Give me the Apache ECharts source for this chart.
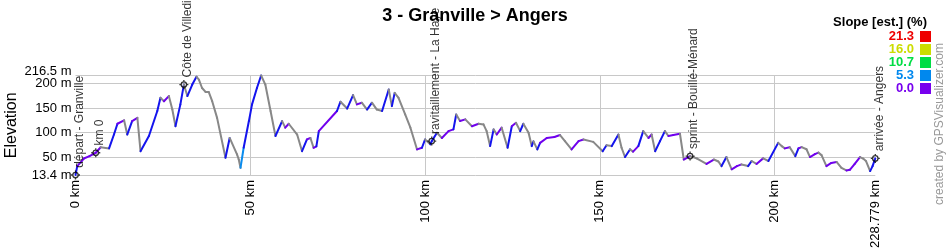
<!DOCTYPE html>
<html><head><meta charset="utf-8">
<script src="https://cdn.jsdelivr.net/npm/echarts@6/dist/echarts.min.js"></script>
<style>html,body{margin:0;padding:0;background:#fff}#c{width:950px;height:250px}</style>
</head><body><div id="c"></div>
<script>
// ---- data ----
const distanceKm = [0,0.5,2.4,4.0,5.8,7.2,9.6,11,12,13.9,14.8,16.2,17.7,18.6,21,23.4,24.3,25.3,26.7,27.7,28.6,30,31,32,33.4,34.6,35.3,36.2,37.2,38.1,39.1,40.5,42.9,44.1,46.2,46.7,47.2,48.1,49.6,50.5,51.9,53.1,54.3,55.8,57.2,59.1,60,61,63.4,64.8,66.2,67.2,68.1,68.9,69.6,74.8,75.8,77.7,79.4,80.5,81.9,83.4,84.8,86.2,87.7,89.6,90.5,91.3,92.4,94.3,95.8,97.7,99.1,100,101.5,101.9,103.4,104.8,106.7,108.1,108.9,110,111.5,113.4,115.3,116.7,117.6,118.6,119.6,120.5,121.9,123.6,124.8,126,127.2,128.1,129.6,130.5,131,132.1,132.9,134.8,137,138.6,140,141.9,143.9,145.3,148.1,150.8,151.9,153.4,155.3,156.2,157.2,158.6,159.5,161,162.4,163.9,164.8,165.8,167.2,168.6,169.6,171,172.9,174,175.8,177.8,180.5,182.6,183.9,184.8,186.2,187.7,189.2,190.5,192.4,193.4,194.8,196.7,198.2,201,202,202.9,204.3,205.9,206.8,207.7,209.1,210.1,211.5,212.5,213.4,214.8,216.2,217.7,219.1,220.5,221.5,222.9,224.4,225.3,226.1,227.3,228,228.779];
const elevationM = [13.4,31.6,47,52,58.8,70,67.7,96,118,125,96,123.5,130,62,93,144,171,164,174.5,147,113,157.5,198,174.5,198,214,208,191,183,183,164,130,48.6,89,55.5,45,28,69,123.5,157.5,191,216.5,198,144,93,123.5,110,118,96,62,86,89,69,72,103,144,163,149,176.5,157.5,161,147,161,147,144,188,154,181,171,137,110,65.6,69,86,76,82.6,99.6,89,103,106.5,137,123.5,127,113,118,116.7,103,72.4,106.5,96,110,69,113,120,103,118,99.6,72.4,82,65.6,79,89,91,95,82.6,65.6,82.6,86,81,62,74,72.4,96,69,50,65.6,61,72.4,103,89,96,62,82.6,103,93,95,97.6,45,52,47,36,45,41,31.6,50,25,31.6,35,31.6,42,36,47.3,42,79,72.4,67.7,70,52,67.7,70.4,66,50,56,59,54,31.6,38,40,28,22.7,24,36,50,47,42,21.4,31.6,47.3];
const yTickValues = [13.4, 50, 100, 150, 200, 216.5];
const xTickValues = [0, 50, 100, 150, 200, 228.779];
const waypointNames = ['départ - Granville','km 0','Côte de Villedieu','ravitaillement - La Haye','sprint - Bouillé-Ménard','arrivée - Angers'];
const waypointKm = [0, 5.8, 31, 101.9, 175.8, 228.779];
const waypointM = [13.4, 58.8, 198, 82.6, 52, 47.3];
const legendValues = ['21.3','16.0','10.7','5.3','0.0'];
const legendColors = ['#ee0000','#ccdd00','#00dd44','#0088ee','#7700ee'];
const titleText = '3 - Granville > Angers';

// ---- build ----
const FONT = "'Liberation Sans', Arial, sans-serif";
function slopeColor(s) {
  if (s <= 0) return '#888888';
  if (s < 1.0) return '#7000ee';
  if (s < 4.5) return '#1414ee';
  if (s < 6.5) return '#0a8cee';
  if (s < 9) return '#10cccc';
  return '#00dd55';
}
const segments = [];
for (let i = 0; i < distanceKm.length - 1; i++) {
  const d0 = distanceKm[i], d1 = distanceKm[i+1], e0 = elevationM[i], e1 = elevationM[i+1];
  const slope = (e1 - e0) / ((d1 - d0) * 10);
  segments.push([d0, e0, d1, e1, slope]);
}
const yMin = Math.min(...yTickValues), yMax = Math.max(...yTickValues);
const xMin = Math.min(...xTickValues), xMax = Math.max(...xTickValues);

const graphics = [];
legendValues.forEach((v, i) => {
  graphics.push({type:'text', style:{text:v, x:914, y:36 + i*13, fill:legendColors[i], font:'bold 13px ' + FONT, align:'right', verticalAlign:'middle'}});
  graphics.push({type:'rect', shape:{x:920, y:31 + i*13, width:11, height:11}, style:{fill:legendColors[i]}});
});
graphics.push({type:'text', style:{text:'Slope [est.] (%)', x:927, y:22, fill:'#000', font:'bold 13px ' + FONT, align:'right', verticalAlign:'middle'}});
graphics.push({type:'text', x:940, y:124, rotation:Math.PI/2, style:{text:'created by GPSVisualizer.com', x:0, y:0, fill:'#999999', font:'12px ' + FONT, align:'center', verticalAlign:'middle'}});

const labelBase = {margin: 4, showMinLabel: true, showMaxLabel: true, hideOverlap: false, fontFamily: FONT, fontSize: 13, color: '#000'};
const markerPath = 'path://M2,5 A3,3 0 1,1 8,5 A3,3 0 1,1 2,5 Z M5,0 L5,2 M5,8 L5,10 M0,5 L2,5 M8,5 L10,5';

const chart = echarts.init(document.getElementById('c'), null, {renderer:'canvas'});
chart.setOption({
  animation: false,
  backgroundColor: '#ffffff',
  title: {text: titleText, left: 'center', top: 2, textStyle: {fontFamily: FONT, fontSize: 18, fontWeight: 'bold', color: '#000'}},
  grid: {left: 75.5, right: 74.7, top: 75.5, bottom: 75, containLabel: false, outerBoundsMode: 'none'},
  xAxis: {
    type: 'value', min: xMin, max: xMax,
    name: 'Distance', nameLocation: 'middle', nameGap: 59,
    nameTextStyle: {fontFamily: FONT, fontSize: 16, color: '#000'},
    axisLine: {show: false}, axisTick: {show: false, customValues: xTickValues},
    axisLabel: {customValues: xTickValues, rotate: 90, margin: 5, showMinLabel: true, showMaxLabel: true, fontFamily: FONT, fontSize: 13, color: '#000', formatter: v => v + ' km'},
    splitLine: {show: true, showMinLine: false, showMaxLine: false, lineStyle: {color: '#c8c8c8', width: 1}}
  },
  yAxis: [{
    type: 'value', min: yMin, max: yMax,
    name: 'Elevation', nameLocation: 'middle', nameGap: 56,
    nameTextStyle: {fontFamily: FONT, fontSize: 16, color: '#000'},
    axisLine: {show: false}, axisTick: {show: false, customValues: yTickValues},
    axisLabel: Object.assign({customValues: yTickValues.filter(v => v !== yMax), formatter: v => v + ' m'}, labelBase),
    splitLine: {show: true, lineStyle: {color: '#c8c8c8', width: 1}}
  }, {
    type: 'value', min: yMin, max: yMax, position: 'left',
    axisLine: {show: false}, axisTick: {show: false, customValues: [yMax]},
    axisLabel: Object.assign({customValues: [yMax], formatter: v => '{t|' + v + ' m}',
      rich: {t: {fontFamily: FONT, fontSize: 13, color: '#000', padding: [0,0,8,0]}}}, labelBase),
    splitLine: {show: false}
  }],
  graphic: graphics,
  series: [
    {
      type: 'custom',
      data: segments,
      encode: {x: [0, 2], y: [1, 3]},
      renderItem: function (params, api) {
        const p0 = api.coord([api.value(0), api.value(1)]);
        const p1 = api.coord([api.value(2), api.value(3)]);
        return {type: 'line', shape: {x1: p0[0], y1: p0[1], x2: p1[0], y2: p1[1]},
          style: {stroke: slopeColor(api.value(4)), lineWidth: 2, lineCap: 'round'}};
      },
      z: 2
    },
    {
      type: 'scatter',
      data: waypointKm.map((k, i) => ({value: [k, waypointM[i]], name: waypointNames[i]})),
      symbol: markerPath, symbolSize: 9,
      itemStyle: {color: 'rgba(255,255,255,0)', borderColor: '#000', borderWidth: 1.3},
      label: {show: true, formatter: p => p.name, position: 'top', distance: 2, rotate: 90,
        align: 'left', verticalAlign: 'middle', offset: [0, 4],
        fontFamily: FONT, fontSize: 12, color: '#000'},
      z: 3
    }
  ]
});
</script></body></html>
